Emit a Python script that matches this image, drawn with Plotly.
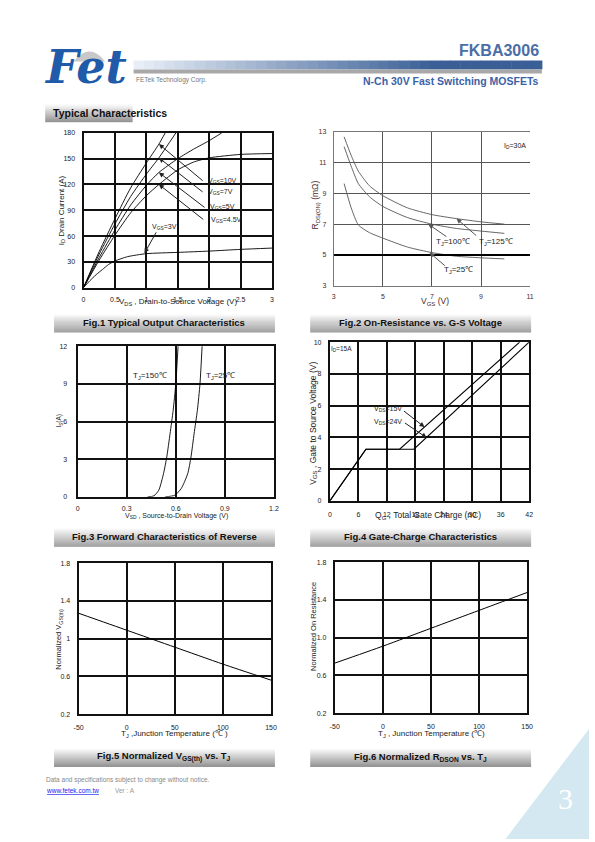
import plotly.graph_objects as go

W, H = 595, 842
FONT = "Liberation Sans, Arial, sans-serif"

# ---------------- data ----------------
# Fig.1 output characteristics (VDS in V, ID in A)
f1_vgs10_x = [0, 0.25, 0.5, 0.75, 1.0, 1.2, 1.3]
f1_vgs10_y = [0, 42, 80, 116, 145, 167, 180]
f1_vgs7_x = [0, 0.25, 0.5, 0.75, 1.0, 1.2, 1.35, 1.47]
f1_vgs7_y = [0, 39, 74, 106, 132, 151, 167, 180]
f1_vgs5_x = [0, 0.25, 0.5, 0.75, 1.0, 1.2, 1.5, 1.75, 2.0, 2.2]
f1_vgs5_y = [0, 35, 67, 96, 119, 134, 150, 161, 171, 180]
f1_vgs45_x = [0, 0.25, 0.5, 0.75, 1.0, 1.2, 1.5, 1.75, 2.0, 2.5, 3.0]
f1_vgs45_y = [0, 32, 61, 87, 107, 120, 137, 146, 151, 155, 156]
f1_vgs3_x = [0, 0.1, 0.2, 0.3, 0.4, 0.5, 0.7, 1.0, 1.5, 2.0, 2.5, 3.0]
f1_vgs3_y = [0, 8, 15, 21, 27, 31, 36, 39.5, 41, 42.5, 44.5, 46]

# Fig.2 on-resistance vs VGS (VGS in V, RDS(on) in mOhm)
f2_vgs = [3.42, 3.7, 4.0, 4.45, 5.0, 6.0, 7.0, 8.0, 9.0, 9.95]
f2_t125 = [12.68, 11.5, 10.45, 9.5, 8.85, 8.06, 7.62, 7.36, 7.15, 7.0]
f2_t100 = [12.04, 10.8, 9.64, 8.79, 8.15, 7.43, 7.0, 6.72, 6.55, 6.4]
f2_t25 = [9.64, 8.1, 6.95, 6.45, 6.09, 5.51, 5.15, 4.91, 4.81, 4.74]

# Fig.3 body diode forward characteristics (VSD in V, IS in A)
f3_t150_x = [0.427, 0.466, 0.496, 0.525, 0.545, 0.565, 0.584, 0.600, 0.614]
f3_t150_y = [0, 0.08, 0.53, 1.85, 3.18, 5.03, 6.89, 9.0, 12.0]
f3_t25_x = [0.535, 0.594, 0.633, 0.673, 0.693, 0.712, 0.732, 0.748, 0.761]
f3_t25_y = [0, 0.13, 0.66, 1.85, 3.18, 5.03, 6.89, 9.0, 12.0]

# Fig.4 gate charge (QG in nC, VGS in V)
f4_vds15_x = [0, 7.6, 14.7, 40.0]
f4_vds15_y = [0, 3.25, 3.25, 10.0]
f4_vds24_x = [0, 7.6, 17.7, 42.0]
f4_vds24_y = [0, 3.25, 3.25, 10.0]

# Fig.5 / Fig.6 vs junction temperature
tj = [-50, 0, 50, 100, 150]
f5_vth = [1.27, 1.09, 0.91, 0.73, 0.56]
f6_rdson = [0.73, 0.91, 1.10, 1.29, 1.48]

# tick values
f1_xt = [0, 0.5, 1, 1.5, 2, 2.5, 3]
f1_xtl = ["0", "0.5", "1", "1.5", "2", "2.5", "3"]
f1_yt = [0, 30, 60, 90, 120, 150, 180]
f2_xt = [3, 5, 7, 9, 11]
f2_yt = [3, 5, 7, 9, 11, 13]
f3_xt = [0, 0.3, 0.6, 0.9, 1.2]
f3_xtl = ["0", "0.3", "0.6", "0.9", "1.2"]
f3_yt = [0, 3, 6, 9, 12]
f4_xt = [0, 6, 12, 18, 24, 30, 36, 42]
f4_yt = [0, 2, 4, 6, 8, 10]
f56_xt = [-50, 0, 50, 100, 150]
f56_yt = [0.2, 0.6, 1.0, 1.4, 1.8]
f5_ytl = ["0.2", "0.6", "1", "1.4", "1.8"]
f6_ytl = ["0.2", "0.6", "1.0", "1.4", "1.8"]

# ---------------- helpers ----------------
OX, OY = -2, -2   # small global offset correction (page px)

def px(x):
    return (x + OX) / W

def py(y):
    return 1 - (y + OY) / H

fig = go.Figure()
layout = dict(width=W, height=H, margin=dict(l=0, r=0, t=0, b=0),
              paper_bgcolor="white", plot_bgcolor="white", showlegend=False,
              font=dict(family=FONT, color="#222"), hovermode=False)
shapes = []
annotations = []

# plot boxes in page pixels: (x0, x1, ytop, ybottom) - chosen so grid spacing is whole pixels
boxes = {
    1: (82, 274, 132, 288),
    2: (337, 537, 131, 286),
    3: (76, 276, 347, 499),
    4: (333, 536, 343, 503),
    5: (77, 273, 566, 718),
    6: (338, 534, 565, 717),
}

def axis_pair(i, xr, yr, xt, yt, xtl=None, ytl=None, grid="#111", gw=2,
              line="#111", lw=2, mirror=True, tickcolor="#222", fs=7,
              xstand=4, ystand=5):
    x0, x1, yt0, yb = boxes[i]
    sx = "" if i == 1 else str(i)
    xa = dict(domain=[px(x0), px(x1)], range=xr, anchor="y" + sx,
              tickmode="array", tickvals=xt, ticktext=xtl if xtl else [str(v) for v in xt],
              showgrid=True, gridcolor=grid, gridwidth=gw, zeroline=False,
              showline=True, linecolor=line, linewidth=lw, mirror=mirror,
              ticks="", ticklabelstandoff=xstand, fixedrange=True,
              tickfont=dict(size=fs, color=tickcolor, family=FONT))
    ya = dict(domain=[py(yb), py(yt0)], range=yr, anchor="x" + sx,
              tickmode="array", tickvals=yt, ticktext=ytl if ytl else [str(v) for v in yt],
              showgrid=True, gridcolor=grid, gridwidth=gw, zeroline=False,
              showline=True, linecolor=line, linewidth=lw, mirror=mirror,
              ticks="", ticklabelstandoff=ystand, fixedrange=True,
              tickfont=dict(size=fs, color=tickcolor, family=FONT))
    layout["xaxis" + sx] = xa
    layout["yaxis" + sx] = ya

axis_pair(1, [0, 3], [0, 180], f1_xt, f1_yt, xtl=f1_xtl)
axis_pair(2, [3, 11], [3, 13], f2_xt, f2_yt, grid="#555", gw=1, line="#777", lw=1,
          mirror=False, tickcolor="#4a2a2a")
layout["xaxis2"]["mirror"] = True
axis_pair(3, [0, 1.2], [0, 12], f3_xt, f3_yt, xtl=f3_xtl, ystand=7)
axis_pair(4, [0, 42], [0, 10], f4_xt, f4_yt, xstand=6)
axis_pair(5, [-50, 150], [0.2, 1.8], f56_xt, f56_yt, ytl=f5_ytl, xstand=6)
axis_pair(6, [-50, 150], [0.2, 1.8], f56_xt, f56_yt, ytl=f6_ytl, xstand=6)

def line_trace(i, x, y, color="black", width=1):
    sx = "" if i == 1 else str(i)
    fig.add_trace(go.Scatter(x=x, y=y, mode="lines", xaxis="x" + sx, yaxis="y" + sx,
                             line=dict(color=color, width=width, shape="spline", smoothing=0.6),
                             hoverinfo="skip"))

def straight_trace(i, x, y, color="black", width=1):
    sx = "" if i == 1 else str(i)
    fig.add_trace(go.Scatter(x=x, y=y, mode="lines", xaxis="x" + sx, yaxis="y" + sx,
                             line=dict(color=color, width=width), hoverinfo="skip"))

# Fig.1
for xs, ys in [(f1_vgs10_x, f1_vgs10_y), (f1_vgs7_x, f1_vgs7_y), (f1_vgs5_x, f1_vgs5_y),
               (f1_vgs45_x, f1_vgs45_y), (f1_vgs3_x, f1_vgs3_y)]:
    line_trace(1, xs, ys, width=0.9)
# Fig.2
shapes.append(dict(type="line", xref="x2", yref="y2", x0=3, x1=11, y0=5, y1=5,
                   line=dict(color="black", width=2)))
for ys in (f2_t125, f2_t100, f2_t25):
    line_trace(2, f2_vgs, ys, color="#555", width=0.9)
# Fig.3
line_trace(3, f3_t150_x, f3_t150_y, width=0.9)
line_trace(3, f3_t25_x, f3_t25_y, width=0.9)
# Fig.4
straight_trace(4, f4_vds15_x, f4_vds15_y, width=1.1)
straight_trace(4, f4_vds24_x, f4_vds24_y, width=1.1)
# Fig.5 / Fig.6
line_trace(5, tj, f5_vth, width=1)
line_trace(6, tj, f6_rdson, width=1)

# ---------------- annotations in data coords ----------------
def dtext(i, x, y, text, size=7, anchor="center", color="#222"):
    sx = "" if i == 1 else str(i)
    annotations.append(dict(xref="x" + sx, yref="y" + sx, x=x, y=y, text=text, showarrow=False,
                            xanchor=anchor, yanchor="middle",
                            font=dict(size=size, color=color, family=FONT)))

def darrow(i, tail, tip, color="#222"):
    sx = "" if i == 1 else str(i)
    annotations.append(dict(xref="x" + sx, yref="y" + sx, axref="x" + sx, ayref="y" + sx,
                            x=tip[0], y=tip[1], ax=tail[0], ay=tail[1], text="",
                            showarrow=True, arrowhead=2, arrowsize=1, arrowwidth=1,
                            arrowcolor=color))

# Fig.1 labels
dtext(1, 1.95, 124, "V<sub>GS</sub>=10V", anchor="left")
dtext(1, 1.95, 111, "V<sub>GS</sub>=7V", anchor="left")
dtext(1, 1.98, 94, "V<sub>GS</sub>=5V", anchor="left")
dtext(1, 1.99, 78.5, "V<sub>GS</sub>=4.5V", anchor="left")
dtext(1, 1.06, 70, "V<sub>GS</sub>=3V", anchor="left")
darrow(1, (1.92, 123), (1.2, 167))
darrow(1, (1.92, 110), (1.2, 151))
darrow(1, (1.95, 92), (1.2, 134))
darrow(1, (1.93, 78), (1.2, 120))
darrow(1, (1.17, 66), (0.97, 40))
# Fig.2 labels
dtext(2, 10.37, 12.1, "I<sub>D</sub>=30A", size=7)
dtext(2, 7.87, 5.87, "T<sub>J</sub>=100℃", size=8, color="#222")
dtext(2, 9.6, 5.87, "T<sub>J</sub>=125℃", size=8, color="#222")
dtext(2, 8.07, 4.02, "T<sub>J</sub>=25℃", size=8, color="#222")
darrow(2, (7.65, 6.12), (6.85, 7.0), color="#555")
darrow(2, (8.86, 6.18), (8.0, 7.36), color="#555")
darrow(2, (7.59, 4.21), (6.9, 5.15), color="#555")
# Fig.3 labels
dtext(3, 0.442, 9.6, "T<sub>J</sub>=150℃", size=8)
dtext(3, 0.872, 9.6, "T<sub>J</sub>=25℃", size=8)
# Fig.4 labels
dtext(4, 2.5, 9.6, "I<sub>D</sub>=15A", size=6.5)
dtext(4, 12.2, 5.8, "V<sub>DS</sub>=15V", size=7)
dtext(4, 12.2, 4.97, "V<sub>DS</sub>=24V", size=7)
darrow(4, (15.3, 5.73), (19.95, 4.65))
darrow(4, (15.5, 4.97), (20.4, 3.98))

# ---------------- page text ----------------
def ptext(x, y, text, size=8, color="#222", anchor="center", angle=0, bold=False, family=FONT, yanchor="middle"):
    t = f"<b>{text}</b>" if bold else text
    annotations.append(dict(xref="paper", yref="paper", x=px(x), y=py(y), text=t, showarrow=False,
                            xanchor=anchor, yanchor=yanchor, textangle=angle,
                            font=dict(size=size, color=color, family=family)))

# axis titles
ptext(60, 210, "I<sub>D</sub> Drain Current (A)", size=8, angle=-90)
ptext(178, 303, "V<sub>DS</sub> , Drain-to-Source Voltage (V)", size=8)
ptext(318, 205, "R<sub>DS(ON)</sub> (mΩ)", size=8.5, angle=-90, color="#4a2a2a")
ptext(440, 302, "V<sub>GS</sub> (V)", size=8.5, color="#4a2a2a")
ptext(57, 422, "I<sub>S</sub>(A)", size=6.5, angle=-90)
ptext(177, 518, "V<sub>SD</sub> , Source-to-Drain Voltage (V)", size=7)
ptext(316, 425, "V<sub>GS</sub> , Gate to Source Voltage (V)", size=8.5, angle=-90)
ptext(433, 518, "Q<sub>G</sub> , Total Gate Charge (nC)", size=8.5)
ptext(57, 642, "Normalized V<sub>GS(th)</sub>", size=7.5, angle=-90)
ptext(175, 738, "T<sub>J</sub> ,Junction Temperature (℃ )", size=8)
ptext(317, 630, "Normalized On Resistance", size=7.5, angle=-90)
ptext(437, 738, "T<sub>J</sub> , Junction Temperature (℃)", size=8)

# caption bars with vertical gradient
def grad_bar(x0, x1, y0, y1, top=(250, 250, 250), bot=(150, 150, 150), n=18):
    h = (y1 - y0) / n
    for k in range(n):
        t = k / (n - 1)
        c = tuple(int(top[j] + (bot[j] - top[j]) * t) for j in range(3))
        shapes.append(dict(type="rect", xref="paper", yref="paper", layer="below",
                           x0=px(x0), x1=px(x1), y0=py(y0 + (k + 1) * h + 0.3), y1=py(y0 + k * h),
                           line=dict(width=0), fillcolor=f"rgb{c}"))

grad_bar(43, 132, 103, 121)
ptext(49, 112, "Typical Characteristics", size=10.5, bold=True, anchor="left", color="#111")
captions = [
    (52, 277, 315, 333, "Fig.1 Typical Output Characteristics"),
    (313, 538, 315, 333, "Fig.2 On-Resistance vs. G-S Voltage"),
    (52, 277, 531, 549, "Fig.3 Forward Characteristics of Reverse"),
    (313, 538, 531, 549, "Fig.4 Gate-Charge Characteristics"),
    (52, 277, 753, 771, "Fig.5 Normalized V<sub>GS(th)</sub> vs. T<sub>J</sub>"),
    (313, 538, 753, 771, "Fig.6 Normalized R<sub>DSON</sub> vs. T<sub>J</sub>"),
]
for x0, x1, y0, y1, txt in captions:
    grad_bar(x0, x1, y0, y1)
    ptext((x0 + x1) / 2, (y0 + y1) / 2 - 1, txt, size=9.5, bold=True, color="#111")

# header gradient bar (horizontal)
n = 40
for k in range(n):
    t = k / (n - 1)
    a = (232, 238, 247)
    b = (58, 95, 150)
    tt = min(1.0, t * 1.35)
    c = tuple(int(a[j] + (b[j] - a[j]) * tt) for j in range(3))
    xa = 133 + (549 - 133) * k / n
    xb = 133 + (549 - 133) * (k + 1) / n + 0.5
    shapes.append(dict(type="rect", xref="paper", yref="paper", layer="below",
                       x0=px(xa), x1=px(xb), y0=py(68), y1=py(59),
                       line=dict(width=0), fillcolor=f"rgb{c}"))
shapes.append(dict(type="rect", xref="paper", yref="paper", layer="below",
                   x0=px(133), x1=px(549), y0=py(72), y1=py(68),
                   line=dict(width=0), fillcolor="#a8a8a8"))
ptext(548, 49, "FKBA3006", size=16, bold=True, anchor="right", color="#4a6ea6")
ptext(548, 80, "N-Ch 30V Fast Switching MOSFETs", size=10.5, bold=True, anchor="right", color="#3a62a8")
ptext(133, 79, "FETek Technology Corp.", size=6.5, anchor="left", color="#777")

# logo approximation
shapes.append(dict(type="path", xref="paper", yref="paper", layer="below",
                   path=f"M {px(72)} {py(60)} Q {px(88)} {py(40)} {px(104)} {py(60)} Z",
                   fillcolor="#c8c8c8", line=dict(width=0)))
ptext(84, 66, "<i>Fet</i>", size=46, bold=True, color="#1f5ba8",
      family="DejaVu Serif, Liberation Serif, serif")

# footer
ptext(42, 785, "Data and specifications subject to change without notice.", size=6.5, anchor="left", color="#888")
ptext(42, 795, "<u>www.fetek.com.tw</u>", size=6.5, anchor="left", color="#1a1aee")
ptext(112, 795, "Ver : A", size=6.5, anchor="left", color="#999")

# corner triangle and page number
shapes.append(dict(type="path", xref="paper", yref="paper", layer="below",
                   path=f"M {px(512)} {py(844)} L {px(597)} {py(733)} L {px(597)} {py(844)} Z",
                   fillcolor="#d3e8f0", line=dict(width=0)))
ptext(573, 803, "3", size=30, color="white", family="Liberation Serif, DejaVu Serif, serif")

layout["shapes"] = shapes
layout["annotations"] = annotations
fig.update_layout(**layout)
fig.write_html("out.html", config={"displayModeBar": False},
               post_script="document.body.style.margin='0';document.body.style.padding='0';"
                           "document.body.style.overflow='hidden';")
